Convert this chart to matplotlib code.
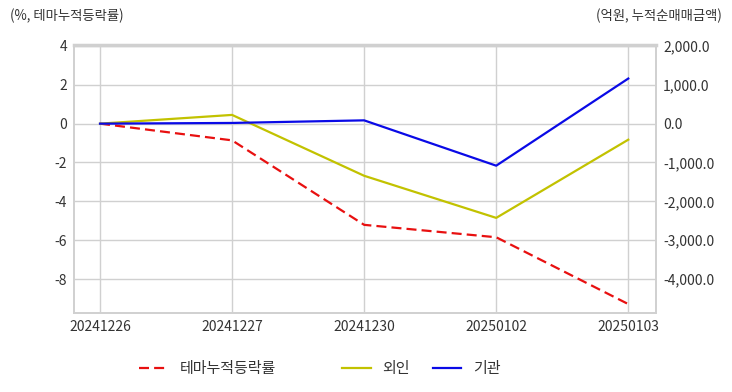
import matplotlib.pyplot as plt
from matplotlib.ticker import FuncFormatter

plt.rcParams['font.family'] = ['Noto Sans CJK KR', 'DejaVu Sans']
plt.rcParams['axes.unicode_minus'] = False

dates = ['20241226', '20241227', '20241230', '20250102', '20250103']
theme_rate = [0.0, -0.86, -5.21, -5.85, -9.29]     # %, 테마누적등락률
foreign_net = [0, 225, -1342, -2426, -413]         # 억원, 외인
inst_net = [0, 18, 85, -1082, 1161]                # 억원, 기관

fig = plt.figure(figsize=(7.32, 3.92), dpi=100)
ax = fig.add_axes([74/732, 1 - 313/392, (656 - 74)/732, (313 - 45)/392])
ax2 = ax.twinx()

x = list(range(len(dates)))
l1, = ax.plot(x, theme_rate, color='#e81010', lw=1.6, ls=(0, (4.5, 2.3)), label='테마누적등락률')
l2, = ax2.plot(x, foreign_net, color='#c2c200', lw=1.6, label='외인')
l3, = ax2.plot(x, inst_net, color='#0a0ae6', lw=1.6, label='기관')

ax.set_xlim(-0.197, 4.21)
ax.set_ylim(-9.75, 4.05)
ax2.set_ylim(-4875, 2025)
ax.set_xticks(x)
ax.set_xticklabels(dates)
ax.set_yticks([-8, -6, -4, -2, 0, 2, 4])
ax2.set_yticks([-4000, -3000, -2000, -1000, 0, 1000, 2000])
ax2.yaxis.set_major_formatter(FuncFormatter(lambda v, p: f'{v:,.1f}'))

ax.grid(True, color='#d0d0d0', lw=1)
ax.set_axisbelow(True)
for a in (ax, ax2):
    a.tick_params(length=0, labelsize=10, labelcolor='#333333', pad=5)
    for s in a.spines.values():
        s.set_color('#d0d0d0')
        s.set_linewidth(1.2)
ax2.spines['top'].set_linewidth(2.5)

fig.text(10/732, 1 - 16/392, '(%, 테마누적등락률)', fontsize=9.6, color='#333333', va='center', ha='left')
fig.text(722/732, 1 - 16/392, '(억원, 누적순매매금액)', fontsize=9.6, color='#333333', va='center', ha='right')

leg_kw = dict(loc='center left', frameon=False, fontsize=10.8, handlelength=1.9,
              handletextpad=0.8, borderpad=0, borderaxespad=0, labelcolor='#333333')
fig.legend(handles=[l1], bbox_to_anchor=(139/732, 1 - 369/392), **leg_kw)
fig.legend(handles=[l2, l3], ncol=2, columnspacing=1.5,
           bbox_to_anchor=(342/732, 1 - 369/392), **leg_kw)

fig.savefig('out.png', dpi=100)
